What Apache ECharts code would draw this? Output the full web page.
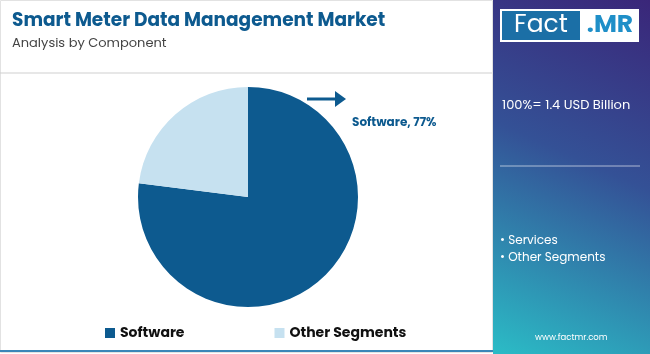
<!DOCTYPE html>
<html><head><meta charset="utf-8">
<script src="https://cdn.jsdelivr.net/npm/echarts@6/dist/echarts.min.js"></script>
<style>html,body{margin:0;padding:0;background:#fff}#c{width:650px;height:354px}</style>
</head><body><div id="c"></div>
<script>
const categories = ['Software', 'Other Segments'];
const values = [77, 23];
const colors = ['#0d5a8f', '#c6e1f0'];
const marketSize = '100%= 1.4 USD Billion';
const otherList = ['Services', 'Other Segments'];

const chart = echarts.init(document.getElementById('c'));
const font = 'Poppins, "Open Sans", Lato, sans-serif';
chart.setOption({
  animation: false,
  legend: {
    data: categories, left: 100, top: 321, itemGap: 90,
    icon: 'rect', itemWidth: 10, itemHeight: 10,
    textStyle: { fontSize: 14, fontWeight: 'bold', color: '#111', fontFamily: font }
  },
  series: [{
    type: 'pie', center: [248, 197], radius: [0, 110], startAngle: 90, clockwise: true,
    label: { show: false }, labelLine: { show: false },
    data: categories.map((c, i) => ({ name: c, value: values[i], itemStyle: { color: colors[i] } }))
  }],
  graphic: [
    { type: 'rect', shape: { x: 0.5, y: 0.5, width: 492, height: 352 }, style: { fill: 'none', stroke: '#e2e2e2', lineWidth: 1 } },
    { type: 'line', shape: { x1: 0, y1: 73, x2: 492, y2: 73 }, style: { stroke: '#cfcfcf', lineWidth: 1 } },
    { type: 'line', shape: { x1: 0, y1: 351, x2: 493, y2: 351 }, style: { stroke: '#3a86b8', lineWidth: 2 } },
    { type: 'text', left: 12, top: 12, style: { text: 'Smart Meter Data Management Market', fontSize: 18.5, fontWeight: 'bold', fill: '#0d5a8f', fontFamily: font } },
    { type: 'text', left: 12, top: 37, style: { text: 'Analysis by Component', fontSize: 13, fill: '#444', fontFamily: font } },
    { type: 'line', shape: { x1: 307, y1: 99, x2: 337, y2: 99 }, style: { stroke: '#0d5a8f', lineWidth: 3 } },
    { type: 'polygon', shape: { points: [[335, 91], [346, 99], [335, 107]] }, style: { fill: '#0d5a8f' } },
    { type: 'text', left: 352, top: 117, style: { text: categories[0] + ', ' + values[0] + '%', fontSize: 12, fontWeight: 'bold', fill: '#0d5a8f', fontFamily: font } },
    { type: 'rect', shape: { x: 493, y: 0, width: 157, height: 354 },
      style: { fill: new echarts.graphic.LinearGradient(1, 0, 0, 1, [
        { offset: 0, color: '#3a2679' }, { offset: 0.45, color: '#345196' }, { offset: 1, color: '#2bbcc6' }]) } },
    { type: 'rect', shape: { x: 500, y: 9, width: 139, height: 33 }, style: { fill: '#ffffff' } },
    { type: 'rect', shape: { x: 502, y: 11, width: 78, height: 29 }, style: { fill: '#1b6fa6' } },
    { type: 'text', x: 541, y: 26, style: { text: 'Fact', fontSize: 25, fill: '#fff', fontFamily: font, align: 'center', verticalAlign: 'middle' } },
    { type: 'text', x: 610, y: 26, style: { text: '.MR', fontSize: 25, fontWeight: 'bold', fill: '#1f8fc8', fontFamily: font, align: 'center', verticalAlign: 'middle' } },
    { type: 'text', left: 502, top: 99, style: { text: marketSize, fontSize: 13, fill: '#fff', fontFamily: font } },
    { type: 'line', shape: { x1: 500, y1: 166, x2: 640, y2: 166 }, style: { stroke: 'rgba(255,255,255,0.6)', lineWidth: 1 } },
    { type: 'text', left: 500, top: 232, style: { text: otherList.map(s => '• ' + s).join('\n'), fontSize: 12, lineHeight: 17, fill: '#fff', fontFamily: font } },
    { type: 'text', left: 535, top: 333, style: { text: 'www.factmr.com', fontSize: 8.5, fill: '#fff', fontFamily: font } }
  ]
});
</script></body></html>
